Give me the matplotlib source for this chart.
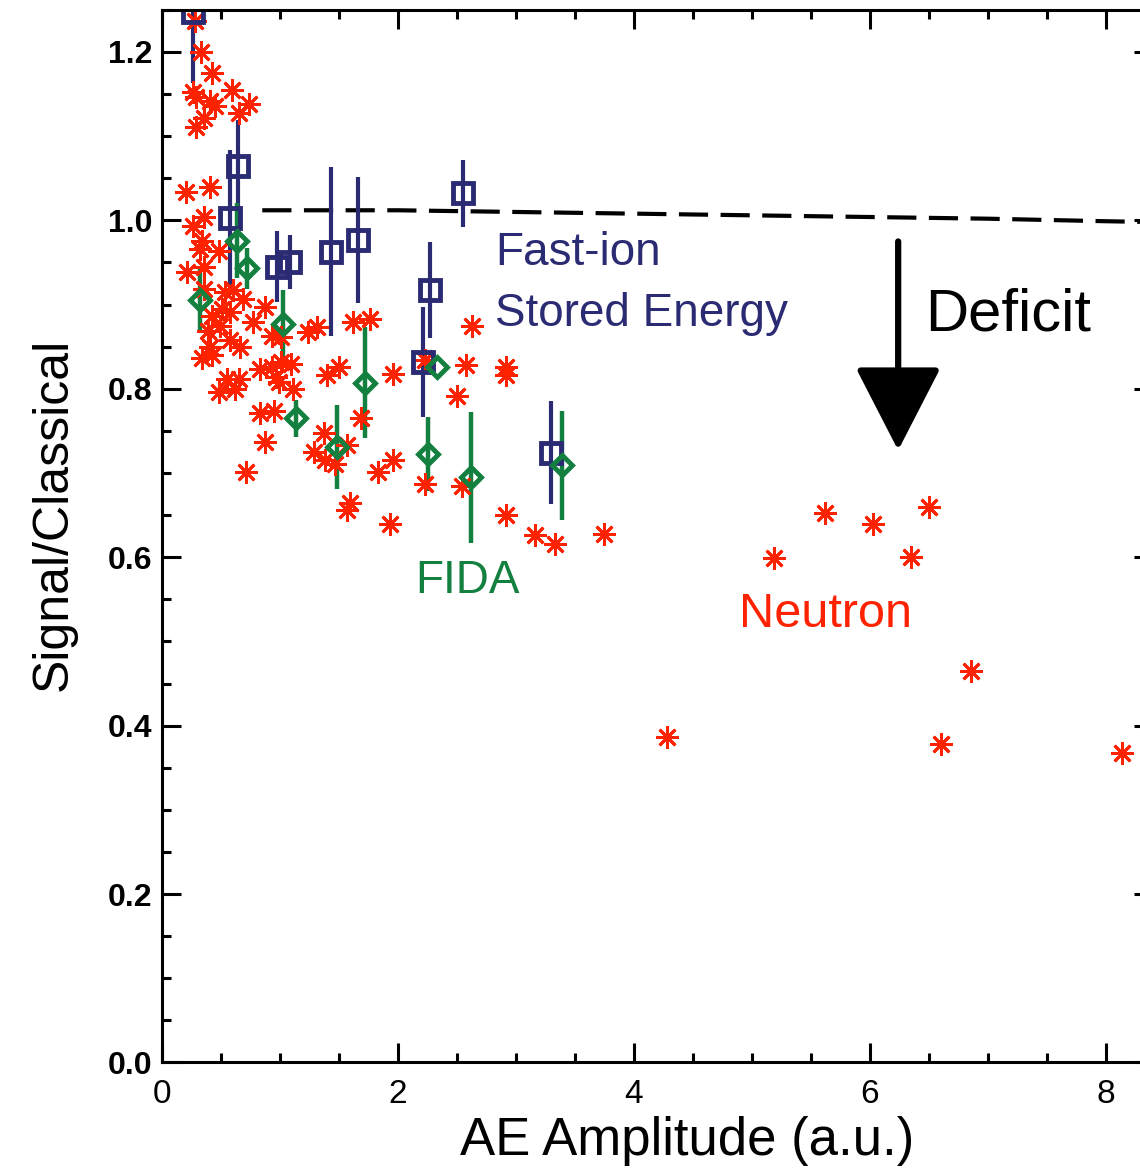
import numpy as np
import matplotlib
matplotlib.use("Agg")
import matplotlib.pyplot as plt
from matplotlib.ticker import MultipleLocator, FormatStrFormatter

# neutron rate / classical (red asterisks)
neut_x = [0.28, 0.33, 0.42, 0.26, 0.29, 0.59, 0.41, 0.45, 0.74, 0.65, 0.36, 0.29,
          0.20, 0.41, 0.265, 0.36, 0.34, 0.32, 0.48, 0.21, 0.36, 0.36, 0.53, 0.60,
          0.69, 0.87, 0.42, 0.51, 0.58, 0.39, 0.49, 0.77, 0.58, 0.66, 0.41, 0.34,
          0.42, 0.93, 1.01, 1.24, 1.31, 1.62, 1.76, 2.63, 0.55, 0.65, 0.48, 0.62,
          0.83, 0.93, 1.01, 1.09, 0.97, 1.11, 1.40, 1.50, 1.96, 2.50, 2.58, 2.92,
          2.92, 0.99, 0.83, 0.95, 0.87, 0.71, 1.69, 1.37, 1.29, 1.57, 1.38, 1.47,
          1.83, 1.96, 1.59, 1.57, 1.93, 2.23, 2.54, 2.23, 2.92, 3.16, 3.33, 3.75,
          4.28, 5.19, 5.62, 6.03, 6.35, 6.50, 6.86, 6.60, 8.14]
neut_y = [1.237, 1.200, 1.175, 1.153, 1.146, 1.155, 1.142, 1.136, 1.138, 1.127, 1.121, 1.111,
          1.034, 1.040, 0.993, 1.004, 0.976, 0.966, 0.964, 0.939, 0.945, 0.919, 0.915, 0.917,
          0.907, 0.897, 0.887, 0.895, 0.891, 0.869, 0.875, 0.879, 0.858, 0.850, 0.850, 0.836,
          0.840, 0.863, 0.861, 0.867, 0.873, 0.879, 0.883, 0.875, 0.812, 0.812, 0.796, 0.800,
          0.824, 0.826, 0.832, 0.830, 0.814, 0.800, 0.816, 0.826, 0.818, 0.792, 0.828, 0.826,
          0.816, 0.808, 0.771, 0.774, 0.737, 0.701, 0.765, 0.747, 0.725, 0.733, 0.715, 0.711,
          0.701, 0.715, 0.664, 0.656, 0.640, 0.687, 0.685, 0.834, 0.650, 0.626, 0.616, 0.628,
          0.387, 0.599, 0.652, 0.640, 0.600, 0.660, 0.465, 0.378, 0.368]

# fast-ion stored energy / classical (blue squares)
fi_x = [0.265, 0.576, 0.647, 0.972, 1.085, 1.43, 1.664, 2.21, 2.27, 2.553, 3.30]
fi_y = [1.248, 1.003, 1.064, 0.945, 0.951, 0.963, 0.977, 0.832, 0.917, 1.032, 0.724]
fi_err = [0.085, 0.080, 0.055, 0.042, 0.032, 0.100, 0.075, 0.065, 0.057, 0.040, 0.061]

# FIDA / classical (green diamonds)
fida_x = [0.322, 0.638, 0.718, 1.028, 1.133, 1.48, 1.72, 2.257, 2.33, 2.62, 3.39]
fida_y = [0.906, 0.976, 0.943, 0.877, 0.765, 0.731, 0.807, 0.723, 0.826, 0.695, 0.709]
fida_err = [0.037, 0.045, 0.024, 0.040, 0.022, 0.050, 0.066, 0.044, 0.0, 0.078, 0.065]

# classical reference (dashed)
cl_x = [0.85, 2.0, 3.0, 4.0, 5.0, 6.0, 7.0, 8.0, 8.4]
cl_y = [1.012, 1.012, 1.010, 1.008, 1.006, 1.004, 1.002, 0.999, 0.998]

navy = "#2B2B73"
green = "#138040"
red = "#FF2200"
regular = ["Liberation Sans", "DejaVu Sans"]

fig = plt.figure(figsize=(11.4, 11.74), dpi=100)
ax = fig.add_axes([0.1421, 0.0950, 0.8693, 0.8966])

ax.plot(cl_x, cl_y, color="k", lw=3, dashes=(7, 3))

ax.errorbar(fi_x, fi_y, yerr=fi_err, fmt="s", ms=15, mfc="none", mec=navy,
            mew=3.5, ecolor=navy, elinewidth=3, capsize=0)
ax.errorbar(fida_x, fida_y, yerr=fida_err, fmt="D", ms=10.5, mfc="none", mec=green,
            mew=3.5, ecolor=green, elinewidth=3.2, capsize=0)
ax.plot(neut_x, neut_y, ls="none", marker=(8, 2, 0), ms=16, mew=2.0, color=red)

# deficit arrow
ax.annotate("", xy=(6.24, 0.727), xytext=(6.24, 0.975),
            arrowprops=dict(arrowstyle="-|>,head_length=0.7,head_width=0.36",
                            lw=4.5, color="k", mutation_scale=75,
                            shrinkA=0, shrinkB=0))

ax.text(2.822, 0.947, "Fast-ion", color=navy, fontsize=33, family=regular, va="baseline")
ax.text(2.822, 0.874, "Stored Energy", color=navy, fontsize=33, family=regular, va="baseline")
ax.text(6.466, 0.869, "Deficit", color="k", fontsize=43, family=regular, va="baseline")
ax.text(2.144, 0.557, "FIDA", color=green, fontsize=33, family=regular, va="baseline")
ax.text(4.89, 0.517, "Neutron", color=red, fontsize=35, family=regular, va="baseline")

ax.set_xlim(0, 8.4)
ax.set_ylim(0, 1.25)
ax.xaxis.set_major_locator(MultipleLocator(2))
ax.xaxis.set_minor_locator(MultipleLocator(0.5))
ax.yaxis.set_major_locator(MultipleLocator(0.2))
ax.yaxis.set_minor_locator(MultipleLocator(0.05))
ax.yaxis.set_major_formatter(FormatStrFormatter("%.1f"))

ax.tick_params(which="both", direction="in", top=True, right=True, width=2.2)
ax.tick_params(which="major", length=14)
ax.tick_params(which="minor", length=6.5)
ax.tick_params(axis="x", which="major", pad=12, labelsize=24)
ax.tick_params(axis="y", which="major", pad=7, labelsize=23)
for s in ax.spines.values():
    s.set_linewidth(2.2)

fig.canvas.draw()
for lab in ax.get_xticklabels():
    lab.set_family(regular)
for lab in ax.get_yticklabels():
    lab.set_family(regular)
    lab.set_fontweight("bold")
ax.get_yticklabels()[0].set_verticalalignment("bottom")

ax.set_xlabel("AE Amplitude (a.u.)", fontsize=38, family=regular)
ax.set_ylabel("Signal/Classical", fontsize=36, family=regular)
ax.xaxis.set_label_coords(0.53, -0.051)
ax.yaxis.set_label_coords(-0.086, 0.521)

fig.savefig("out.png", dpi=100)
